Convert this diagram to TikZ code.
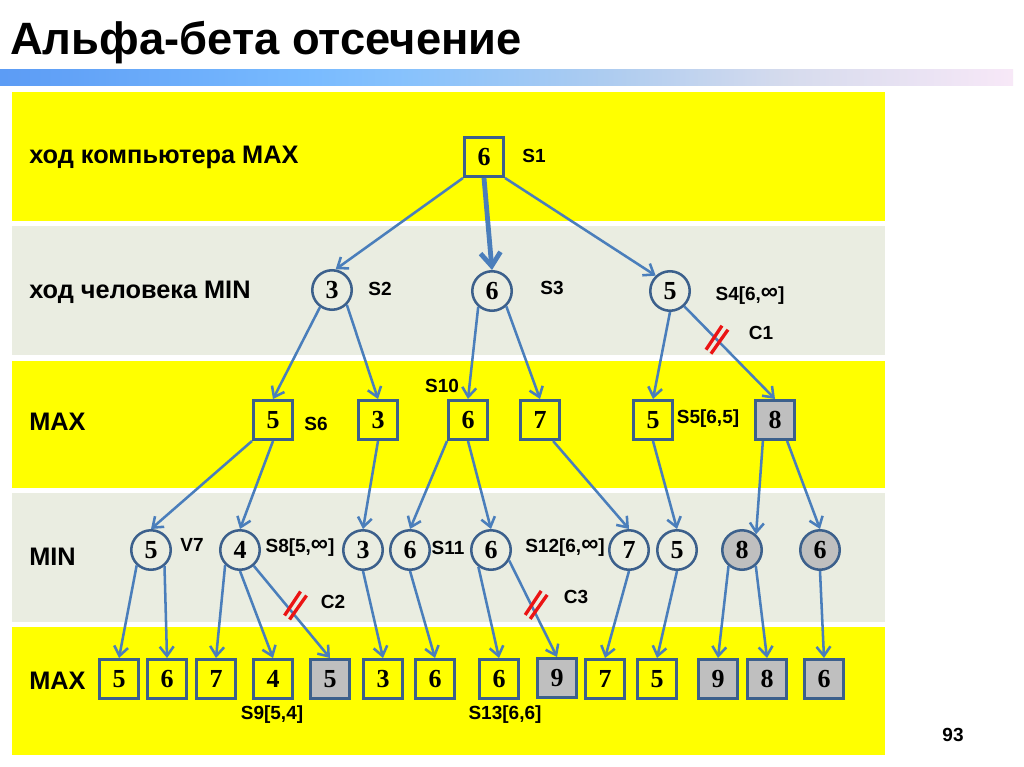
\documentclass[tikz,border=0pt]{standalone}
\usepackage{fontspec}
\setmainfont{Liberation Sans}
\newfontfamily\numfont{Liberation Serif}
\usetikzlibrary{arrows.meta}
\definecolor{bandyellow}{RGB}{255,255,0}
\definecolor{bandgray}{RGB}{234,237,225}
\definecolor{edgeblue}{RGB}{74,126,187}
\definecolor{nodeblue}{RGB}{60,96,140}
\definecolor{leafgray}{RGB}{191,191,191}
\definecolor{cutred}{RGB}{235,20,20}
\pgfdeclarehorizontalshading{titlebar}{100bp}{rgb(0bp)=(0.36,0.61,0.96); rgb(25bp)=(0.36,0.61,0.96); rgb(40bp)=(0.47,0.73,1.0); rgb(45bp)=(0.53,0.76,0.99); rgb(55bp)=(0.68,0.80,0.94); rgb(64bp)=(0.84,0.86,0.93); rgb(75bp)=(0.97,0.91,0.97); rgb(100bp)=(0.97,0.91,0.97)}
\newcommand\cutmarkat[2]{%
  \draw[cutmark] ([shift={(-11+#2,10)}]#1) -- ++(16,-24);
  \draw[cutmark] ([shift={(-6+#2,14)}]#1) -- ++(17,-24);}
\newcommand\infsym{\raisebox{1.2pt}{\fontsize{18pt}{18pt}\selectfont ∞}}
\begin{document}
\begin{tikzpicture}[x=0.75pt,y=-0.75pt,
  numfont/.style={font={\numfont\bfseries\fontsize{19.5pt}{20pt}\selectfont}},
  maxbox/.style={draw=nodeblue, line width=1.9pt, fill=bandyellow, minimum size=29.6pt, inner sep=0pt, numfont},
  minball/.style={circle, draw=nodeblue, line width=1.9pt, fill=bandgray, minimum size=29.6pt, inner sep=0pt, numfont},
  pruned/.style={fill=leafgray},
  treeedge/.style={draw=edgeblue, line width=1.9pt, -{Straight Barb[length=7pt,width=10.5pt]}},
  mainedge/.style={draw=edgeblue, line width=3.6pt, -{Straight Barb[length=10pt,width=15pt]}},
  lbl/.style={font={\bfseries\fontsize{14.25pt}{15pt}\selectfont}, inner sep=0pt},
  bandlbl/.style={font={\bfseries\fontsize{19pt}{21pt}\selectfont}, anchor=west, inner sep=0pt},
  cutmark/.style={draw=cutred, line width=2.5pt}
]
\useasboundingbox (0,0) rectangle (1024,767);
\fill[white] (0,0) rectangle (1024,767);
% title and bar
\node[anchor=base west, inner sep=0pt, font={\bfseries\fontsize{34pt}{36pt}\selectfont}] (title) at (10,55) {Альфа-бета отсечение};
\shade[shading=titlebar] (0,70) rectangle (1013,86);
% bands
\fill[bandyellow] (12,92) rectangle (885,221);
\fill[bandgray] (12,226) rectangle (885,355);
\fill[bandyellow] (12,361) rectangle (885,488);
\fill[bandgray] (12,493) rectangle (885,622);
\fill[bandyellow] (12,627) rectangle (885,755);
% band labels
\node[bandlbl] (L1) at (29,157) {ход компьютера MAX};
\node[bandlbl] (L2) at (29,292) {ход человека MIN};
\node[bandlbl] (L3) at (29,422) {MAX};
\node[bandlbl] (L4) at (29,557) {MIN};
\node[bandlbl] (L5) at (29,681) {MAX};
% level 1
\node[maxbox] (s1) at (484,157) {6};
% level 2
\node[minball] (s2) at (332,290) {3};
\node[minball] (s3) at (492,291) {6};
\node[minball] (s4) at (670,291) {5};
% level 3
\node[maxbox] (b1) at (273,420) {5};
\node[maxbox] (b2) at (378,420) {3};
\node[maxbox] (b3) at (468,420) {6};
\node[maxbox] (b4) at (540,420) {7};
\node[maxbox] (b5) at (653,420) {5};
\node[maxbox,pruned] (b6) at (775,420) {8};
% level 4
\node[minball] (c1) at (151,550) {5};
\node[minball] (c2) at (240,550) {4};
\node[minball] (c3) at (363,550) {3};
\node[minball] (c4) at (410,550) {6};
\node[minball] (c5) at (491,550) {6};
\node[minball] (c6) at (629,550) {7};
\node[minball] (c7) at (677,550) {5};
\node[minball,pruned] (c8) at (742,550) {8};
\node[minball,pruned] (c9) at (820,550) {6};
% level 5
\node[maxbox] (l1) at (119,679) {5};
\node[maxbox] (l2) at (167,679) {6};
\node[maxbox] (l3) at (216,679) {7};
\node[maxbox] (l4) at (273,679) {4};
\node[maxbox,pruned] (l5) at (330,679) {5};
\node[maxbox] (l6) at (383,679) {3};
\node[maxbox] (l7) at (435,679) {6};
\node[maxbox] (l8) at (499,679) {6};
\node[maxbox,pruned] (l9) at (557,678) {9};
\node[maxbox] (l10) at (605,679) {7};
\node[maxbox] (l11) at (657,679) {5};
\node[maxbox,pruned] (l12) at (718,679) {9};
\node[maxbox,pruned] (l13) at (767,679) {8};
\node[maxbox,pruned] (l14) at (824,679) {6};
% edges
\draw[treeedge] (s1.south west) -- (s2.80);
\draw[mainedge] (s1.south) -- (s3.north);
\draw[treeedge] (s1.south east) -- (s4.133);
\draw[treeedge] (s2.235) -- (b1.north);
\draw[treeedge] (s2.315) -- (b2.north);
\draw[treeedge] (s3.229) -- (b3.north);
\draw[treeedge] (s3.313) -- (b4.north);
\draw[treeedge] (s4.south) -- (b5.north);
\draw[treeedge] (s4.313) -- coordinate[pos=0.36] (k1) (b6.north);
\draw[treeedge] (b1.south west) -- (c1.north);
\draw[treeedge] (b1.south) -- (c2.north);
\draw[treeedge] (b2.south) -- (c3.north);
\draw[treeedge] (b3.south west) -- (c4.north);
\draw[treeedge] (b3.south) -- (c5.north);
\draw[treeedge] (b4.-58) -- (c6.north);
\draw[treeedge] (b5.south) -- (c7.north);
\draw[treeedge] (b6.240) -- (c8.48);
\draw[treeedge] (b6.300) -- (c9.north);
\draw[treeedge] (c1.227) -- (l1.north);
\draw[treeedge] (c1.310) -- (l2.north);
\draw[treeedge] (c2.225) -- (l3.north);
\draw[treeedge] (c2.south) -- (l4.north);
\draw[treeedge] (c2.311) -- coordinate[pos=0.43] (k2) (l5.north);
\draw[treeedge] (c3.south) -- (l6.north);
\draw[treeedge] (c4.south) -- (l7.north);
\draw[treeedge] (c5.233) -- (l8.north);
\draw[treeedge] (c5.330) -- coordinate[pos=0.46] (k3) (l9.north);
\draw[treeedge] (c6.south) -- (l10.north);
\draw[treeedge] (c7.south) -- (l11.north);
\draw[treeedge] (c8.230) -- (l12.north);
\draw[treeedge] (c8.311) -- (l13.north);
\draw[treeedge] (c9.south) -- (l14.north);
% cut marks
\cutmarkat{k1}{0}
\cutmarkat{k2}{9}
\cutmarkat{k3}{5}
% small labels
\node[lbl] (tS1) at (534,156) {S1};
\node[lbl] (tS2) at (380,289) {S2};
\node[lbl] (tS3) at (552,288) {S3};
\node[lbl] (tS4) at (750,296) {S4[6,\infsym]};
\node[lbl] (tC1) at (761,333) {C1};
\node[lbl] (tS10) at (442,386) {S10};
\node[lbl] (tS6) at (316,424) {S6};
\node[lbl] (tS5) at (708,419) {S5[6,5]};
\node[lbl] (tV7) at (192,545) {V7};
\node[lbl] (tS8) at (300,548) {S8[5,\infsym]};
\node[lbl] (tS11) at (448,548) {S11};
\node[lbl] (tS12) at (565,548) {S12[6,\infsym]};
\node[lbl] (tC2) at (333,602) {C2};
\node[lbl] (tC3) at (576,597) {C3};
\node[lbl] (tS9) at (272,715) {S9[5,4]};
\node[lbl] (tS13) at (505,715) {S13[6,6]};
\node[lbl] (page) at (953,735) {93};
\end{tikzpicture}
\end{document}
